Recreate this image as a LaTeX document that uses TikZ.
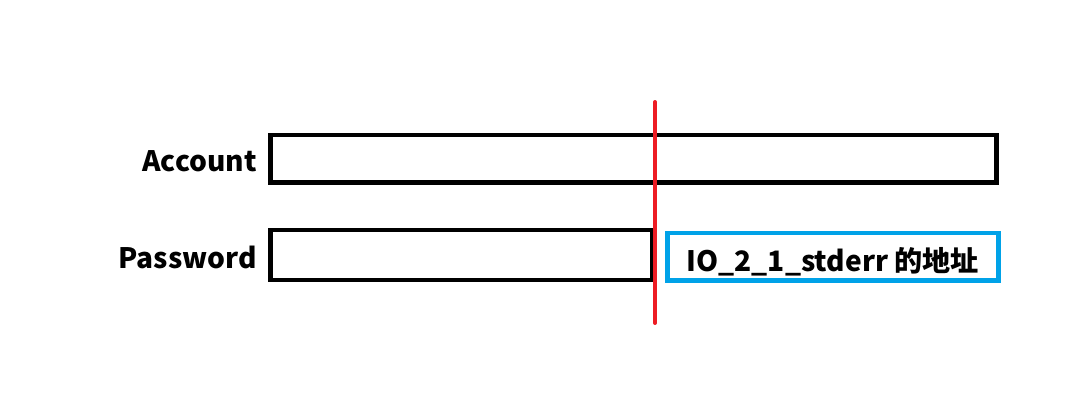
\documentclass[tikz,border=0pt]{standalone}
\usepackage{fontspec}
\setmainfont{Noto Sans CJK SC}
\usetikzlibrary{positioning}
\definecolor{cutred}{HTML}{ED1C24}
\definecolor{addrblue}{HTML}{00A2E8}

\begin{document}
\begin{tikzpicture}[
    x=0.025cm, y=-0.025cm,
    fieldbox/.style={rectangle, draw=black, line width=3.2pt, fill=none, inner sep=0pt},
    addrbox/.style={rectangle, draw=addrblue, line width=3.2pt, inner sep=0pt, font=\fontsize{20}{22}\selectfont\bfseries},
    fieldlabel/.style={inner sep=0pt, yshift=-2pt, font=\fontsize{20}{22}\selectfont\bfseries},
]
\useasboundingbox (0,0) rectangle (1068,413);

% Input fields
\node[fieldbox, minimum width=18.15cm, minimum height=1.175cm, anchor=north west] (account) at (268,133) {};
\node[fieldbox, minimum width=9.54cm, minimum height=1.24cm, anchor=north west] (password) at (268,228) {};

% Field labels
\node[fieldlabel, left=0.28cm of account] (acclabel) {Account};
\node[fieldlabel, left=0.28cm of password] (pwdlabel) {Password};

% Overflowed address
\node[addrbox, minimum width=8.275cm, minimum height=1.175cm, anchor=north west] (addr) at (665,231) {\raisebox{-10.5pt}[0pt][0pt]{IO\_2\_1\_stderr 的地址}};

% Boundary line
\coordinate (cuttop) at (655,102);
\coordinate (cutbot) at (655,323);
\draw[cutred, line width=2.8pt, line cap=round] (cuttop) -- (cutbot);

\end{tikzpicture}
\end{document}
